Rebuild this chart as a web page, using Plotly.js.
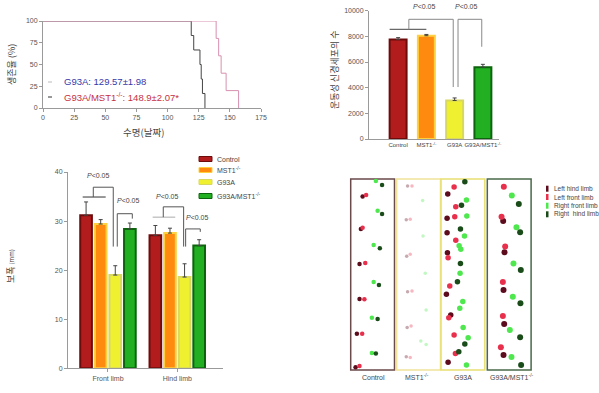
<!DOCTYPE html>
<html><head><meta charset="utf-8">
<script src="https://cdn.plot.ly/plotly-3.0.1.min.js"></script>
<style>html,body{margin:0;padding:0;background:#fff}#chart{width:599px;height:393px}</style>
</head><body><div id="chart"></div>
<script>
// ---------- Survival (Kaplan-Meier) ----------
const g93aDays = [0,119,121,126,127,128,130];
const g93aSurv = [100,83.3,66.7,50,33.3,16.7,0];
const dkoDays  = [0,139,141,143,147,157];
const dkoSurv  = [100,80,60,40,20,0];
const survTicksX = [0,25,50,75,100,125,150,175];
const survTicksY = [0,25,50,75,100];
const survLegend = ['G93A: 129.57\u00b11.98', 'G93A/MST1<sup>-/-</sup>: 148.9\u00b12.07*'];

// ---------- Motor neuron counts ----------
const groups = ['Control','MST1<sup>-/-</sup>','G93A','G93A/MST1<sup>-/-</sup>'];
const neuronVals = [7750, 8050, 3000, 5600];
const neuronErr  = [150, 100, 200, 220];
const neuronTicks = [0,2000,4000,6000,8000,10000];

// ---------- Stride length ----------
const limbs = ['Front limb','Hind limb'];
const strideControl = [31.2, 27.1];
const strideMST1    = [29.4, 27.55];
const strideG93A    = [19.0, 18.6];
const strideDKO     = [28.4, 25.0];
const errControl = [2.7, 2.0];
const errMST1    = [0.9, 1.0];
const errG93A    = [1.9, 2.7];
const errDKO     = [1.2, 1.2];
const strideTicks = [0,10,20,30,40];

// ---------- Footprints (relative x/y inside each box, 0..1 from top) ----------
const fpNames = ['Left hind limb','Left front limb','Right front limb','Right  hind limb'];
// Control
const ctlLH = {x:[0.27,0.23,0.20,0.20,0.14,0.11], y:[0.092,0.262,0.445,0.628,0.81,0.986]};
const ctlLF = {x:[0.35,0.27,0.33,0.31,0.26,0.20], y:[0.084,0.255,0.44,0.63,0.81,0.979]};
const ctlRF = {x:[0.57,0.61,0.52,0.52,0.48,0.48], y:[0.01,0.166,0.346,0.539,0.726,0.911]};
const ctlRH = {x:[0.71,0.71,0.66,0.64,0.61,0.57], y:[0.031,0.183,0.363,0.555,0.733,0.914]};
// MST1-/-
const mstLH = {x:[0.25,0.22,0.23,0.25,0.24,0.22], y:[0.037,0.213,0.405,0.59,0.777,0.93]};
const mstLF = {x:[0.35,0.31,0.31,0.35,0.33,0.31], y:[0.037,0.211,0.394,0.586,0.77,0.935]};
const mstRF = {x:[0.59,0.60,0.65,0.67,0.55,0.67], y:[0.113,0.298,0.494,0.686,0.848,0.866]};
const mstRH = {x:[], y:[]};
// G93A
const g93LH = {x:[0.121,0.106,0.106,0.114,0.091,0.189,0.129], y:[0.079,0.206,0.281,0.386,0.604,0.712,0.96]};
const g93LF = {x:[0.265,0.303,0.28,0.303,0.129,0.167,0.144,0.265,0.295], y:[0.042,0.145,0.197,0.321,0.412,0.56,0.726,0.817,0.913]};
const g93RF = {x:[0.545,0.553,0.5,0.417,0.379,0.40,0.462,0.394,0.47,0.583,0.545], y:[0.11,0.194,0.298,0.368,0.349,0.494,0.642,0.677,0.777,0.831,0.974]};
const g93RH = {x:[0.508,0.432,0.409,0.409,0.341,0.508,0.371], y:[0.014,0.138,0.262,0.442,0.538,0.864,0.904]};
// G93A/MST1-/-
const dkoLH = {x:[0.338,0.368,0.346,0.361,0.346], y:[0.22,0.384,0.581,0.759,0.921]};
const dkoLF = {x:[0.353,0.301,0.383,0.331,0.331,0.286], y:[0.04,0.197,0.354,0.539,0.717,0.881]};
const dkoRF = {x:[0.534,0.639,0.571,0.556,0.489,0.526], y:[0.087,0.253,0.443,0.616,0.791,0.932]};
const dkoRH = {x:[0.692,0.722,0.737,0.729,0.722,0.744], y:[0.131,0.279,0.476,0.651,0.829,0.974]};

// ---------- styling helpers ----------
const W = 599, H = 393;
const px = v => v / W;
const py = v => 1 - v / H;
const FONT = 'Liberation Sans, Arial, Noto Sans CJK KR, sans-serif';
const KFONT = 'Noto Sans CJK KR, Liberation Sans, sans-serif';
const barFill = ['#b21c1c','#ff8a10','#eef030','#22b022'];
const barLine = ['#6e0c0c','#ffd040','#d8d860','#0c640c'];

const axBase = {showgrid:false, zeroline:false, showline:true, linecolor:'#9a9a9a', linewidth:1,
  ticks:'outside', ticklen:3, tickcolor:'#9a9a9a', tickfont:{size:7, color:'#555', family:FONT}, fixedrange:true};

const traces = [];
// Survival
traces.push({x:g93aDays, y:g93aSurv, type:'scatter', mode:'lines', line:{shape:'hv', color:'#444', width:1},
  xaxis:'x', yaxis:'y', showlegend:false, hoverinfo:'skip', cliponaxis:false});
traces.push({x:dkoDays, y:dkoSurv, type:'scatter', mode:'lines', line:{shape:'hv', color:'#d890b0', width:1},
  xaxis:'x', yaxis:'y', showlegend:false, hoverinfo:'skip', cliponaxis:false});

// Neurons
traces.push({x:groups, y:neuronVals, type:'bar', width:0.6, xaxis:'x2', yaxis:'y2',
  marker:{color:barFill, line:{color:barLine, width:2}},
  error_y:{type:'data', array:neuronErr, arrayminus:[0,0,0,0], symmetric:false, color:'#444', thickness:1, width:2},
  showlegend:false, hoverinfo:'skip'});

// Stride
const strideSets = [[strideControl,errControl],[strideMST1,errMST1],[strideG93A,errG93A],[strideDKO,errDKO]];
strideSets.forEach((s,i)=>{
  traces.push({x:limbs, y:s[0], type:'bar', name:groups[i], xaxis:'x3', yaxis:'y3',
    marker:{color:barFill[i], line:{color:barLine[i], width:2}},
    error_y:{type:'data', array:s[1], arrayminus:[0,0], symmetric:false, color:'#444', thickness:1, width:2},
    showlegend:false, hoverinfo:'skip'});
});

// Footprints
const BOXW = 0.963;
const fpGroups = [[ctlLH,ctlLF,ctlRF,ctlRH],[mstLH,mstLF,mstRF,mstRH],[g93LH,g93LF,g93RF,g93RH],[dkoLH,dkoLF,dkoRF,dkoRH]];
const fpColors = ['#5c0c1c','#e8304c','#4ee84e','#1a4c1a'];
const fpSize = [4.5,3.5,5.5,6];
const fpOpac = [1,0.35,1,1];
for (let k=0;k<4;k++){
  const xs=[], ys=[], sz=[], op=[];
  fpGroups.forEach((g,gi)=>{
    g[k].x.forEach((v,j)=>{ xs.push(gi + v*BOXW); ys.push(g[k].y[j]); sz.push(fpSize[gi]); op.push(fpOpac[gi]); });
  });
  traces.push({x:xs, y:ys, type:'scatter', mode:'markers', xaxis:'x4', yaxis:'y4', cliponaxis:false,
    marker:{color:fpColors[k], size:sz, opacity:op, line:{width:0}}, showlegend:false, hoverinfo:'skip'});
}

// ---------- shapes ----------
const shapes = [];
const line = (xref,yref,x0,y0,x1,y1,color) => shapes.push({type:'line', xref, yref, x0, y0, x1, y1, line:{color:color||'#555', width:1}});
// neuron brackets
line('x2','y2',-0.3,8550,1.0,8550,'#444');
line('x2','y2',0.38,8550,0.38,9330,'#888');
line('x2','y2',0.38,9330,1.95,9330,'#888');
line('x2','y2',1.95,9330,1.95,4050,'#888');
line('x2','y2',2.12,4050,2.12,9330,'#888');
line('x2','y2',2.12,9330,2.96,9330,'#888');
line('x2','y2',2.96,9330,2.96,7190,'#888');
// stride brackets
line('x3','y3',-0.365,34.9,-0.033,34.9,'#333');
line('x3','y3',-0.212,34.9,-0.212,36.9,'#555');
line('x3','y3',-0.212,36.9,0.076,36.9,'#555');
line('x3','y3',0.076,36.9,0.076,24.8,'#555');
line('x3','y3',0.134,24.8,0.134,31.5,'#555');
line('x3','y3',0.134,31.5,0.351,31.5,'#555');
line('x3','y3',0.351,31.5,0.351,30.5,'#555');
line('x3','y3',0.645,30.8,0.971,30.8,'#aaa');
line('x3','y3',0.798,30.8,0.798,32.9,'#555');
line('x3','y3',0.798,32.9,1.092,32.9,'#555');
line('x3','y3',1.092,32.9,1.092,24.8,'#555');
line('x3','y3',1.121,24.8,1.121,28.4,'#555');
line('x3','y3',1.121,28.4,1.332,28.4,'#555');
line('x3','y3',1.332,28.4,1.332,27.8,'#555');
// survival legend dashes
shapes.push({type:'line', xref:'paper', yref:'paper', x0:px(48), x1:px(52), y0:py(82), y1:py(82), line:{color:'#bbb', width:1}});
shapes.push({type:'line', xref:'paper', yref:'paper', x0:px(48), x1:px(52), y0:py(97), y1:py(97), line:{color:'#333', width:1}});
// stride legend swatches
const legRows = [159, 170, 182, 196];
legRows.forEach((r,i)=>{
  shapes.push({type:'rect', xref:'paper', yref:'paper', x0:px(199), x1:px(212), y0:py(r+2.5), y1:py(r-2.5),
    fillcolor:barFill[i], line:{color:barLine[i], width:1}});
});
// footprint boxes (paper coords)
const boxCols = ['#6a4a4a','#f0e49a','#e8e070','#4a684a'];
const boxLeft = [350.7, 396.7, 441, 487.3];
boxLeft.forEach((l,i)=>{
  shapes.push({type:'rect', xref:'paper', yref:'paper', x0:px(l), x1:px(l+43.8), y0:py(370), y1:py(179),
    line:{color:boxCols[i], width:1.5}, layer:'below'});
});
// footprint legend glyphs
const fpLegRows = [188.7, 197, 205.7, 214.3];
fpLegRows.forEach((r,i)=>{
  shapes.push({type:'rect', xref:'paper', yref:'paper', x0:px(546), x1:px(548.5), y0:py(r+3), y1:py(r-3),
    fillcolor:fpColors[i], line:{width:0}});
});

// ---------- annotations ----------
const ann = [];
const txt = (x,y,text,opts) => ann.push(Object.assign({xref:'paper', yref:'paper', x:px(x), y:py(y), text,
  showarrow:false, xanchor:'center', yanchor:'middle', font:{size:7, color:'#444', family:FONT}}, opts||{}));
// survival
txt(62,82,survLegend[0],{xanchor:'left', font:{size:9.5, color:'#3838a8', family:FONT}});
txt(62,97,survLegend[1],{xanchor:'left', font:{size:9.5, color:'#c83040', family:FONT}});
txt(12,65,'생존율 (%)',{textangle:-90, font:{size:9, color:'#444', family:KFONT}});
txt(143,132,'수명(날짜)',{font:{size:9.5, color:'#444', family:KFONT}});
// neuron
txt(334,70,'운동성 신경세포의 수',{textangle:-90, font:{size:9, color:'#444', family:KFONT}});
txt(424,7,'<i>P</i><0.05');
txt(466,7,'<i>P</i><0.05');
// stride
txt(10,266,'보폭 <span style="font-size:6px">(mm)</span>',{textangle:-90, font:{size:9, color:'#444', family:KFONT}});
txt(97.7,175,'<i>P</i><0.05');
txt(127.7,200,'<i>P</i><0.05');
txt(167.3,196,'<i>P</i><0.05');
txt(196.7,217.3,'<i>P</i><0.05');
legRows.forEach((r,i)=> txt(215,r,groups[i],{xanchor:'left', font:{size:7, color:'#444', family:FONT}}));
// footprints
const boxLabelX = [373, 417, 463, 511.7];
boxLabelX.forEach((x,i)=> txt(x,377,groups[i],{font:{size:7, color:'#444', family:FONT}}));
fpLegRows.forEach((r,i)=> txt(552,r,fpNames[i],{xanchor:'left', font:{size:6.5, color:'#444', family:FONT}}));

const layout = {
  width:W, height:H, margin:{l:0,r:0,t:0,b:0}, paper_bgcolor:'#fff', plot_bgcolor:'rgba(0,0,0,0)',
  font:{family:FONT}, showlegend:false, barmode:'group', bargap:0.157, bargroupgap:0.2,
  xaxis:Object.assign({}, axBase, {domain:[px(43),px(261)], range:[0,175], tickvals:survTicksX, anchor:'y'}),
  yaxis:Object.assign({}, axBase, {domain:[py(108),py(21)], range:[0,100], tickvals:survTicksY, anchor:'x'}),
  xaxis2:Object.assign({}, axBase, {domain:[px(369),px(499)], type:'category', range:[-1.03,3.57], ticks:'', tickangle:0,
    tickfont:{size:6, color:'#444', family:FONT}, anchor:'y2'}),
  yaxis2:Object.assign({}, axBase, {domain:[py(139),py(10.7)], range:[0,10000], tickvals:neuronTicks, tickformat:'d', anchor:'x2'}),
  xaxis3:Object.assign({}, axBase, {domain:[px(68),px(223)], type:'category', range:[-0.577,1.66], anchor:'y3'}),
  yaxis3:Object.assign({}, axBase, {domain:[py(368.3),py(172)], range:[0,40], tickvals:strideTicks, anchor:'x3'}),
  xaxis4:{domain:[px(350.7),px(532.4)], range:[0,3.963], visible:false, anchor:'y4', fixedrange:true},
  yaxis4:{domain:[py(370),py(179)], range:[1,0], visible:false, anchor:'x4', fixedrange:true},
  shapes, annotations:ann
};
Plotly.newPlot('chart', traces, layout, {staticPlot:true, displayModeBar:false});
</script>
</body></html>
